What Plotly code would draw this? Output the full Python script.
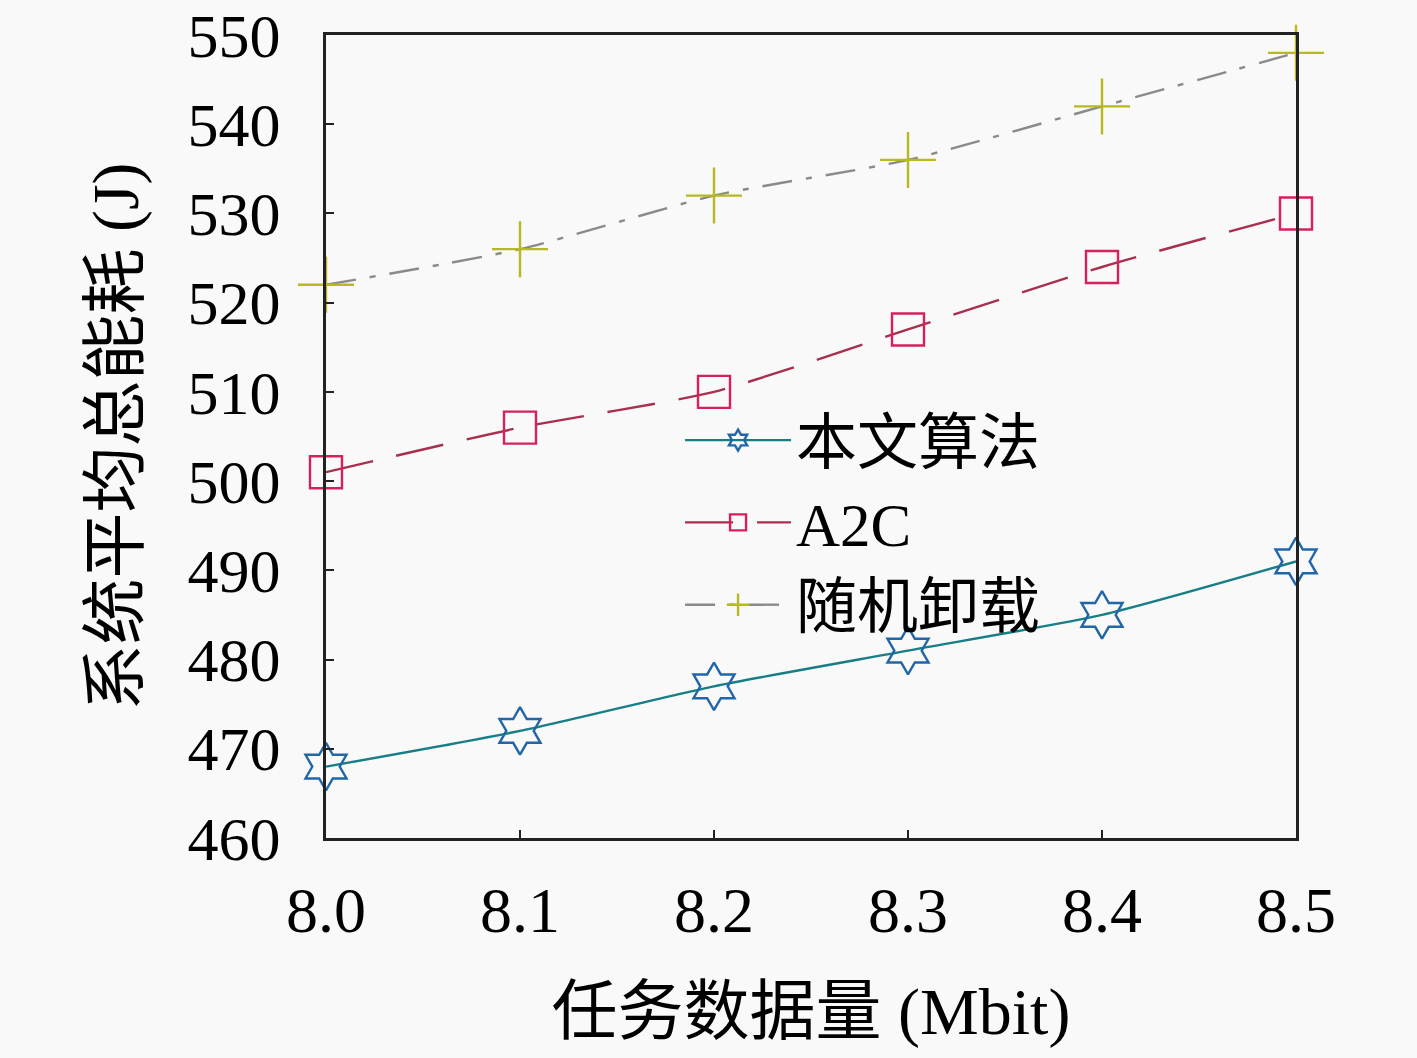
import plotly.graph_objects as go

x_vals = [8.0, 8.1, 8.2, 8.3, 8.4, 8.5]
x_ticktext = ["8.0", "8.1", "8.2", "8.3", "8.4", "8.5"]
ours = [468, 472, 477, 481, 485, 491]
a2c = [501, 506, 510, 517, 524, 530]
rand_off = [522, 526, 532, 536, 542, 548]
y_ticks = [460, 470, 480, 490, 500, 510, 520, 530, 540, 550]

names = ["本文算法", "A2C", "随机卸载"]

FONT = "Liberation Serif, Noto Sans CJK SC, serif"

fig = go.Figure()
fig.add_trace(go.Scatter(
    x=x_vals, y=ours, name=names[0], mode="lines+markers",
    line=dict(color="#177e86", width=2.4, shape="spline", smoothing=0.6),
    marker=dict(symbol="hexagram-open", size=36, color="#2166a8", line=dict(width=2.4, color="#2166a8")),
    cliponaxis=False,
))
fig.add_trace(go.Scatter(
    x=x_vals, y=a2c, name=names[1], mode="lines+markers",
    line=dict(color="#a8304e", width=2.4, dash="48px,24px", shape="spline", smoothing=0.6),
    marker=dict(symbol="square-open", size=32, color="#d6205c", line=dict(width=2.4, color="#d6205c")),
    cliponaxis=False,
))
fig.add_trace(go.Scatter(
    x=x_vals, y=rand_off, name=names[2], mode="lines+markers",
    line=dict(color="#8a8a8a", width=2.4, dash="30px,14px,6px,14px", shape="spline", smoothing=0.6),
    marker=dict(symbol="cross-thin-open", size=40, color="#b8b820", line=dict(width=2.4, color="#b8b820")),
    cliponaxis=False,
))

fig.update_layout(
    width=1417, height=1058,
    paper_bgcolor="#f9f9f9", plot_bgcolor="#f9f9f9",
    margin=dict(l=326, r=121, t=35, b=220, autoexpand=False),
    font=dict(family=FONT, size=62, color="black"),
    showlegend=True,
    legend=dict(
        x=0.365, y=0.553, xanchor="left", yanchor="top",
        bgcolor="rgba(0,0,0,0)", borderwidth=0,
        font=dict(size=61, family=FONT),
        itemwidth=106, tracegroupgap=0,
    ),
    xaxis=dict(
        range=[8.0, 8.5], tickmode="array", tickvals=x_vals, ticktext=x_ticktext,
        showgrid=False, zeroline=False, showline=True, linecolor="#222", linewidth=3,
        mirror=True, ticks="inside", ticklen=8, tickcolor="#222", tickwidth=2,
        ticklabelstandoff=14, automargin=False, ticklabeloverflow="allow",
        tickfont=dict(size=64),
        title=dict(text="任务数据量 (Mbit)", font=dict(size=66), standoff=44),
    ),
    yaxis=dict(
        range=[460, 550], tickmode="array", tickvals=y_ticks,
        showgrid=False, zeroline=False, showline=True, linecolor="#222", linewidth=3,
        mirror=True, ticks="inside", ticklen=8, tickcolor="#222", tickwidth=2,
        ticklabelstandoff=30, automargin=False, ticklabeloverflow="allow",
        tickfont=dict(size=62),
        title=dict(text="系统平均总能耗 (J)", font=dict(size=66), standoff=28),
    ),
)

fig.write_html("out.html", config={"displayModeBar": False},
               post_script="document.body.style.margin='0';")
